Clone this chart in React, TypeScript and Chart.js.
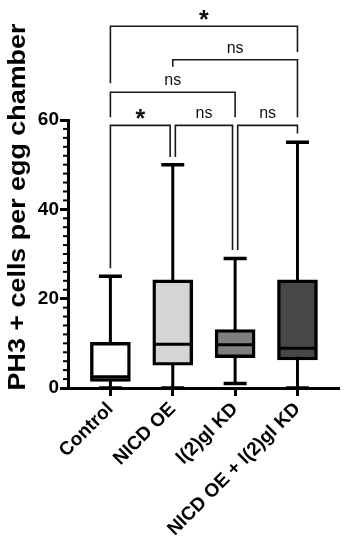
import React, { useEffect, useRef } from "react";
import { Chart, registerables } from "chart.js";

Chart.register(...registerables);

// ---- data ----
const categories = ["Control", "NICD OE", "l(2)gl KD", "NICD OE + l(2)gl KD"];
const whiskerMin = [0, 0, 1, 0];
const q1 = [1.5, 5.1, 6.8, 6.3];
const median = [2.5, 9.8, 9.7, 8.9];
const q3 = [10.2, 24.2, 13.1, 24.2];
const whiskerMax = [25, 50, 29, 55];
const boxColors = ["#ffffff", "#d5d5d7", "#7f7f7f", "#474747"];

const yTickValues = [0, 20, 40, 60];

// significance brackets (category indices, levels in data units)
const bracketFrom = [0, 1, 2, 0, 1, 0];
const bracketTo = [1, 2, 3, 2, 3, 3];
const bracketLevel = [58.8, 58.8, 58.8, 66.2, 73.5, 81.0];
const bracketDropLeft = [26.8, 51.7, 30.9, 60.6, 71.9, 68.2];
const bracketDropRight = [51.7, 30.9, 57.0, 60.6, 60.6, 75.2];
const bracketLabel = ["*", "ns", "ns", "ns", "ns", "*"];

const yTitle = "PH3 + cells per egg chamber";
const FONT = "'Liberation Sans', Arial, Helvetica, sans-serif";

const boxPlugin = {
  id: "boxExtras",
  beforeDatasetsDraw(chart: any) {
    const { ctx, scales } = chart;
    const xs = scales.x, ys = scales.y;
    ctx.save();
    ctx.strokeStyle = "#000";
    ctx.lineCap = "butt";
    categories.forEach((_, i) => {
      const x = xs.getPixelForValue(i);
      const yMin = ys.getPixelForValue(whiskerMin[i]);
      const yMax = ys.getPixelForValue(whiskerMax[i]);
      ctx.lineWidth = 3;
      ctx.beginPath();
      ctx.moveTo(x, yMin);
      ctx.lineTo(x, yMax);
      ctx.stroke();
      ctx.lineWidth = 3.5;
      ctx.beginPath();
      ctx.moveTo(x - 11.5, yMax);
      ctx.lineTo(x + 11.5, yMax);
      ctx.moveTo(x - 11.5, yMin);
      ctx.lineTo(x + 11.5, yMin);
      ctx.stroke();
    });
    ctx.restore();
  },
  afterDatasetsDraw(chart: any) {
    const { ctx, scales } = chart;
    const xs = scales.x, ys = scales.y;
    ctx.save();
    ctx.strokeStyle = "#000";
    ctx.lineWidth = 3;
    categories.forEach((_, i) => {
      const x = xs.getPixelForValue(i);
      const y = ys.getPixelForValue(median[i]);
      ctx.beginPath();
      ctx.moveTo(x - 19, y);
      ctx.lineTo(x + 19, y);
      ctx.stroke();
    });
    ctx.restore();
  },
  afterDraw(chart: any) {
    const { ctx, scales, chartArea } = chart;
    const xs = scales.x, ys = scales.y;
    ctx.save();
    // minor ticks on y axis
    ctx.strokeStyle = "#000";
    ctx.lineWidth = 2;
    for (let v = 2; v < 60; v += 2) {
      if (v % 20 === 0) continue;
      const y = ys.getPixelForValue(v);
      ctx.beginPath();
      ctx.moveTo(chartArea.left - 5, y);
      ctx.lineTo(chartArea.left, y);
      ctx.stroke();
    }
    // brackets
    ctx.strokeStyle = "#1a1a1a";
    ctx.lineWidth = 1.6;
    ctx.fillStyle = "#111";
    const inset = 2.6;
    bracketFrom.forEach((from, b) => {
      const to = bracketTo[b];
      const lvl = bracketLevel[b];
      const sharesLeft = bracketTo.some((t, k) => k !== b && t === from && bracketLevel[k] === lvl);
      const sharesRight = bracketFrom.some((f, k) => k !== b && f === to && bracketLevel[k] === lvl);
      const xl = xs.getPixelForValue(from) + (sharesLeft ? inset : 0);
      const xr = xs.getPixelForValue(to) - (sharesRight ? inset : 0);
      const yl = ys.getPixelForValue(lvl);
      ctx.beginPath();
      ctx.moveTo(xl, ys.getPixelForValue(bracketDropLeft[b]));
      ctx.lineTo(xl, yl);
      ctx.lineTo(xr, yl);
      ctx.lineTo(xr, ys.getPixelForValue(bracketDropRight[b]));
      ctx.stroke();
      const label = bracketLabel[b];
      const star = label === "*";
      ctx.font = star ? `bold 25px ${FONT}` : `16px ${FONT}`;
      const m = ctx.measureText(label);
      const cy = yl - 11.5;
      const base = cy + (m.actualBoundingBoxAscent - m.actualBoundingBoxDescent) / 2;
      ctx.textAlign = "center";
      ctx.textBaseline = "alphabetic";
      ctx.fillText(label, (xl + xr) / 2, base);
    });
    // y axis title (slightly stretched along its length, as in the source)
    ctx.font = `bold 24px ${FONT}`;
    ctx.fillStyle = "#000";
    ctx.translate(18, 207);
    ctx.rotate(-Math.PI / 2);
    ctx.scale(1.12, 1);
    ctx.textAlign = "center";
    ctx.textBaseline = "middle";
    ctx.fillText(yTitle, 0, 0);
    ctx.restore();
  },
};

export default function App() {
  const ref = useRef<HTMLCanvasElement | null>(null);
  useEffect(() => {
    if (!ref.current) return;
    const chart = new Chart(ref.current, {
      type: "bar",
      data: {
        datasets: [
          {
            data: categories.map((_, i) => ({ x: i, y: [q1[i], q3[i]] })) as any,
            backgroundColor: boxColors,
            borderColor: "#000",
            borderWidth: 3.4,
            borderSkipped: false,
            barThickness: 40,
          },
        ],
      },
      options: {
        responsive: false,
        animation: false,
        events: [],
        layout: { padding: { top: 120, right: 7, left: 0, bottom: 0 } },
        plugins: { legend: { display: false }, tooltip: { enabled: false }, title: { display: false } },
        scales: {
          x: {
            type: "linear",
            offset: false,
            min: -0.68,
            max: 3.65,
            afterBuildTicks: (s: any) => {
              s.ticks = categories.map((_, i) => ({ value: i }));
            },
            afterFit: (s: any) => {
              s.height = 162;
            },
            ticks: {
              autoSkip: false,
              maxRotation: 45,
              minRotation: 45,
              padding: 2,
              color: "#000",
              font: { family: FONT, size: 19, weight: "bold" },
              callback: (v: any) => categories[v as number],
            },
            grid: { offset: false, drawOnChartArea: false, drawTicks: true, tickLength: 8, lineWidth: 3, color: "#000" },
            border: { display: true, width: 3, color: "#000" },
          },
          y: {
            type: "linear",
            min: 0,
            max: 60,
            afterBuildTicks: (s: any) => {
              s.ticks = yTickValues.map((v) => ({ value: v }));
            },
            afterFit: (s: any) => {
              s.width = 68;
            },
            ticks: {
              padding: 1,
              color: "#000",
              font: { family: FONT, size: 19, weight: "bold" },
            },
            grid: { drawOnChartArea: false, drawTicks: true, tickLength: 8, lineWidth: 3, color: "#000" },
            border: { display: true, width: 3, color: "#000" },
          },
        },
      },
      plugins: [boxPlugin],
    });
    return () => chart.destroy();
  }, []);
  return (
    <div style={{ position: "absolute", left: 0, top: 0, width: 345, height: 550, background: "#fff" }}>
      <canvas ref={ref} width={345} height={550} style={{ display: "block" }} />
    </div>
  );
}
